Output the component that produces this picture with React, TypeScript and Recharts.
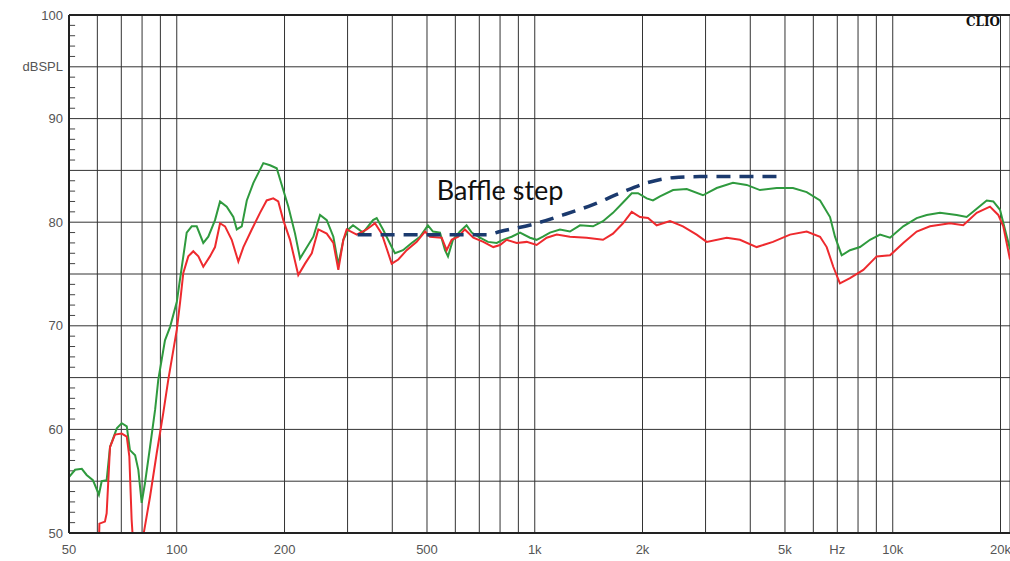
import { LineChart, Line, XAxis, YAxis, CartesianGrid, ReferenceLine, ReferenceDot } from 'recharts';

// Loudspeaker frequency response, two measurements (Hz / dB SPL)
const greenHz = [
  50, 52, 54.3, 56, 58.3, 59.8, 60.6, 61.7, 63.7, 65.1, 68, 70.2, 72.5, 74, 76.5, 78.1, 79.8, 81.5, 84.2, 87,
  88.8, 92.7, 95.8, 100, 104.3, 106.6, 110.1, 113.7, 118.6, 122.5, 127.9, 132.1, 137.9, 143.9, 147.1, 151.9,
  156.9, 163.7, 174.5, 182.2, 190.2, 198.4, 205, 214, 221, 228.2, 240.7, 251.3, 262.4, 273.8, 282.7, 292,
  301.5, 310.7, 331.4, 353.4, 361.8, 376.8, 398.5, 407, 428.5, 453.2, 477.9, 503, 519.7, 543.6, 561.4, 572.4,
  591, 618, 645, 666.6, 703, 740, 783, 815, 862, 909.6, 970, 1012, 1054, 1103, 1176, 1254, 1338, 1455, 1551,
  1654, 1764, 1866, 1943, 2055, 2139, 2238, 2434, 2658, 2950, 3223, 3578, 3908, 4257, 4741, 5264, 5750, 6266,
  6681, 6898, 7201, 7596, 8101, 8640, 9214, 9827, 10700, 11666, 12441, 13552, 15087, 16090, 17160, 18302,
  19095, 19936, 20585, 21261,
];
const greenDb = [
  55.4, 56.1, 56.2, 55.6, 55.1, 54.2, 53.7, 55.0, 55.1, 58.3, 60.1, 60.6, 60.3, 58.0, 57.5, 56.1, 52.9, 54.8,
  58.3, 61.9, 64.8, 68.6, 69.9, 72.3, 76.7, 79.0, 79.6, 79.6, 78.0, 78.6, 80.2, 82.0, 81.5, 80.5, 79.3, 79.6,
  82.1, 83.8, 85.7, 85.5, 85.2, 83.1, 81.5, 78.9, 76.5, 77.3, 78.6, 80.7, 80.2, 78.6, 75.9, 78.3, 79.3, 79.7,
  79.0, 80.2, 80.4, 79.3, 77.6, 77.0, 77.3, 78.0, 78.6, 79.7, 79.1, 79.0, 77.3, 76.7, 78.3, 79.1, 79.7, 79.0,
  78.5, 78.1, 78.0, 78.3, 78.6, 79.0, 78.5, 78.3, 78.6, 79.0, 79.3, 79.1, 79.7, 79.6, 80.1, 80.9, 81.9, 82.8,
  82.8, 82.3, 82.1, 82.5, 83.1, 83.2, 82.6, 83.3, 83.8, 83.6, 83.1, 83.3, 83.3, 82.9, 82.1, 80.5, 78.6, 76.8,
  77.3, 77.6, 78.3, 78.8, 78.5, 79.6, 80.4, 80.7, 80.9, 80.7, 80.5, 81.3, 82.1, 82.0, 81.2, 79.3, 77.4,
];

const redHz = [
  60.2, 60.8, 63, 63.7, 65.1, 67.2, 70.2, 72.5, 73.7, 74.8, 75.6, 77.5, 79.5, 80.6, 84.2, 87.9, 91.7, 94.7,
  100, 102.1, 104.3, 107.7, 111.2, 114.9, 118.6, 123.8, 127.9, 132.1, 136.4, 142.4, 148.6, 153.5, 162, 170.8,
  178.3, 186, 192.1, 198.4, 207.2, 218.5, 228.2, 238.3, 248.6, 262.4, 273.8, 282.7, 292, 298.3, 318.3, 339.3,
  357.8, 373.7, 398.5, 415.8, 438.8, 468, 493.6, 509.7, 549.6, 567.5, 586, 611.5, 638, 673.6, 718.4, 765.9,
  799.7, 835, 890.5, 949.6, 1012, 1080, 1152, 1254, 1396, 1551, 1654, 1764, 1866, 1968, 2072, 2190, 2387,
  2594, 2833, 3022, 3437, 3743, 4168, 4628, 5164, 5750, 6266, 6539, 6822, 7120, 7596, 8276, 9019, 9827,
  10700, 11666, 12706, 14448, 15740, 17160, 18690, 19716, 20361, 21261,
];
const redDb = [
  45, 50.9, 51.1, 51.9, 58.3, 59.5, 59.6, 59.3, 57.4, 51.3, 48.8, 44, 44, 49.7, 53.5, 57.7, 61.6, 64.8,
  69.6, 72.2, 75.1, 76.7, 77.2, 76.7, 75.7, 76.7, 77.6, 79.9, 79.6, 78.3, 76.2, 77.6, 79.3, 80.9,
  82.1, 82.3, 82.0, 80.2, 78.3, 74.9, 76.0, 77.0, 79.3, 78.9, 78.0, 75.4, 78.3, 79.3, 78.8, 79.3,
  79.9, 78.9, 76.0, 76.4, 77.3, 78.1, 79.1, 78.6, 78.5, 77.3, 78.3, 78.6, 79.3, 78.5, 78.1, 77.6,
  77.8, 78.3, 78.0, 78.1, 77.8, 78.5, 78.8, 78.6, 78.5, 78.3, 78.9, 79.9, 81.0, 80.5, 80.4, 79.7, 80.1,
  79.6, 78.8, 78.1, 78.5, 78.3, 77.6, 78.1, 78.8, 79.1, 78.6, 77.6, 75.7, 74.1, 74.6, 75.4, 76.7, 76.8,
  78.0, 79.1, 79.6, 79.9, 79.7, 80.9, 81.5, 80.7, 79.6, 76.4,
];

// Hand-drawn baffle step guide
const baffleHz = [320, 735, 800, 989, 1200, 1455, 1730, 2058, 2433, 2894, 5000];
const baffleDb = [78.8, 78.8, 79.1, 79.8, 80.7, 81.7, 82.8, 83.8, 84.3, 84.4, 84.4];

const freqTicks = [
  50, 60, 70, 80, 90, 100, 200, 300, 400, 500, 600, 700, 800, 900, 1000,
  2000, 3000, 4000, 5000, 6000, 7000, 8000, 9000, 10000, 20000,
];
const freqLabels: Record<number, string> = {
  50: '50', 100: '100', 200: '200', 500: '500', 1000: '1k', 2000: '2k',
  5000: '5k', 7000: 'Hz', 10000: '10k', 20000: '20k',
};
const splTicks = [50, 55, 60, 65, 70, 75, 80, 85, 90, 95, 100];
const splLabels: Record<number, string> = {
  50: '50', 60: '60', 70: '70', 80: '80', 90: '90', 95: 'dBSPL', 100: '100',
};
// 1 dB marks along the left edge (the 5 dB ones are grid lines already)
const minorTicks = Array.from({ length: 51 }, (_, i) => 50 + i).filter((v) => v % 5 !== 0);

const toPoints = (hz: number[], db: number[]) => hz.map((f, i) => ({ f, db: db[i] }));
const greenData = toPoints(greenHz, greenDb);
const redData = toPoints(redHz, redDb);
const baffleData = toPoints(baffleHz, baffleDb);

const axisFont = { fill: '#555', fontSize: 13, fontFamily: '"Liberation Sans", Arial, sans-serif' };

export default function App() {
  return (
    <div style={{ position: 'absolute', left: 0, top: 0, width: 1010, height: 561, overflow: 'hidden', background: '#fff' }}>
      <LineChart width={1010} height={561} margin={{ top: 15, right: 0, bottom: 0, left: 0 }}>
        <CartesianGrid stroke="#333" strokeWidth={1} />
        <XAxis
          dataKey="f"
          type="number"
          scale="log"
          domain={[50, 21260]}
          allowDataOverflow
          ticks={freqTicks}
          interval={0}
          height={28}
          tickLine={false}
          tickMargin={6}
          axisLine={{ stroke: '#222', strokeWidth: 2 }}
          tick={axisFont}
          tickFormatter={(v: number) => freqLabels[v] ?? ''}
        />
        <YAxis
          type="number"
          domain={[50, 100]}
          allowDataOverflow
          ticks={splTicks}
          interval={0}
          width={69}
          tickLine={false}
          tickSize={6}
          tickMargin={0}
          axisLine={{ stroke: '#222', strokeWidth: 2 }}
          tick={axisFont}
          tickFormatter={(v: number) => splLabels[v] ?? ''}
        />
        <ReferenceLine y={100} stroke="#222" strokeWidth={2} />
        {minorTicks.map((v) => (
          <ReferenceLine
            key={v}
            segment={[{ x: 50, y: v }, { x: 52, y: v }]}
            stroke="#444"
            strokeWidth={1}
          />
        ))}
        <Line
          data={greenData}
          dataKey="db"
          type="linear"
          stroke="#2f9a3e"
          strokeWidth={2}
          dot={false}
          activeDot={false}
          isAnimationActive={false}
        />
        <Line
          data={redData}
          dataKey="db"
          type="linear"
          stroke="#ee2a2e"
          strokeWidth={2}
          dot={false}
          activeDot={false}
          isAnimationActive={false}
        />
        <Line
          data={baffleData}
          dataKey="db"
          type="monotone"
          stroke="#1b3a6e"
          strokeWidth={3.5}
          strokeDasharray="14 9"
          dot={false}
          activeDot={false}
          isAnimationActive={false}
        />
        <ReferenceDot
          x={800}
          y={83.1}
          r={0}
          fill="none"
          stroke="none"
          label={{ value: 'Baffle step', position: 'center', fill: '#111', fontSize: 27, fontFamily: 'Lato, sans-serif' }}
        />
      </LineChart>
      <div
        style={{
          position: 'absolute',
          left: 966,
          top: 15,
          fontFamily: '"DejaVu Serif", serif',
          fontWeight: 'bold',
          fontSize: 12,
          color: '#111',
        }}
      >
        CLIO
      </div>
    </div>
  );
}
